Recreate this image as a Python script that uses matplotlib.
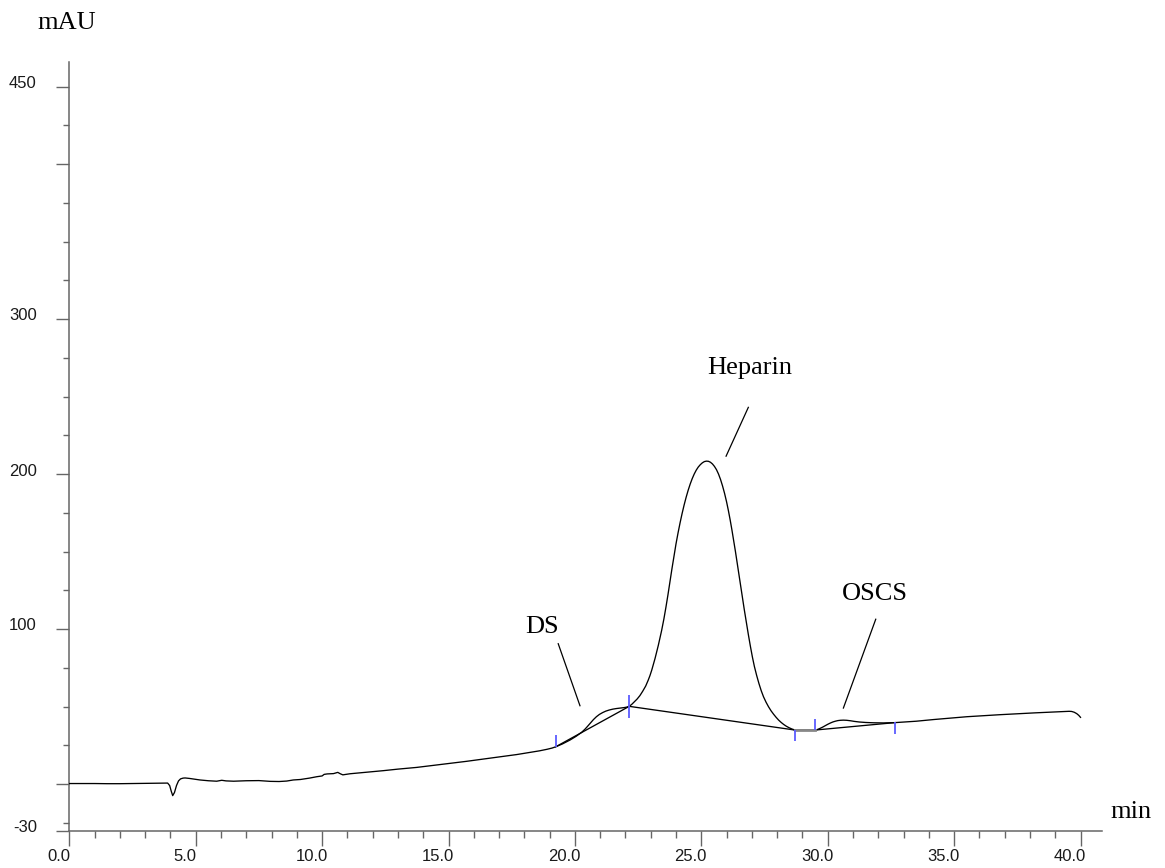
import matplotlib
matplotlib.use("Agg")
import matplotlib.pyplot as plt
from matplotlib.transforms import ScaledTranslation

# ---- data ----
time_min = [0.0, 0.5, 1.0, 1.5, 2.0, 2.5, 3.0, 3.5, 3.89, 3.97, 4.03, 4.09, 4.16, 4.24,
            4.32, 4.40, 4.50, 4.58, 4.75, 5.0, 5.17, 5.5, 5.83, 6.03, 6.2, 6.5, 7.0, 7.5,
            7.95, 8.3, 8.6, 8.86, 9.14, 9.5, 9.79, 10.0, 10.08, 10.2, 10.45, 10.62, 10.72,
            10.82, 11.1, 11.5, 12.0, 12.42, 13.0, 13.74, 14.4, 15.06, 15.7, 16.38, 17.0,
            17.7, 18.2, 18.6, 18.9, 19.1, 19.24, 19.5, 19.81, 20.05, 20.27, 20.4, 20.5, 20.62, 20.73,
            20.85, 20.97, 21.1, 21.22, 21.35, 21.5, 21.65, 21.8, 21.95, 22.05, 22.15,
            22.25, 22.35, 22.46, 22.57, 22.68, 22.8, 22.9, 22.97, 23.04, 23.1, 23.17, 23.24,
            23.3, 23.37, 23.43, 23.52, 23.6, 23.68, 23.76, 23.84, 23.92, 24.0, 24.08, 24.16,
            24.24, 24.32, 24.4, 24.48, 24.56, 24.64, 24.72, 24.8, 24.88, 24.96, 25.04, 25.12,
            25.2, 25.28, 25.36, 25.44, 25.52, 25.6, 25.68, 25.76, 25.84, 25.92, 26.0, 26.07,
            26.14, 26.21, 26.28, 26.35, 26.42, 26.49, 26.56, 26.63, 26.7, 26.78, 26.86, 26.94,
            27.02, 27.1, 27.19, 27.28, 27.37, 27.46, 27.56, 27.66, 27.76, 27.86, 27.96, 28.06,
            28.16, 28.26, 28.36, 28.46, 28.58, 28.71, 29.1, 29.5, 29.6, 29.7, 29.8, 29.9,
            30.0, 30.1, 30.2, 30.3, 30.4, 30.5, 30.62, 30.75, 30.9, 31.05, 31.25, 31.5, 31.8,
            32.2, 32.66, 33.5, 34.2, 34.85, 35.5, 36.2, 36.8, 37.5, 38.2, 38.9, 39.45, 39.55,
            39.65, 39.75, 39.85, 39.93, 40.0]
signal_mau = [0.3, 0.3, 0.3, 0.2, 0.2, 0.3, 0.4, 0.5, 0.6, -1.0, -4.5, -7.5, -5.5, -1.0,
              2.0, 3.3, 3.8, 3.9, 3.6, 3.0, 2.6, 2.1, 1.8, 2.4, 2.0, 1.8, 2.1, 2.2,
              1.7, 1.6, 1.9, 2.6, 2.9, 3.8, 4.7, 5.2, 6.2, 6.5, 6.7, 7.5, 6.6,
              5.9, 6.6, 7.2, 7.9, 8.6, 9.6, 10.7, 12.0, 13.3, 14.6, 16.1, 17.4,
              19.0, 20.3, 21.4, 22.4, 23.2, 24.0, 25.8, 28.4, 30.8, 33.4, 35.4, 37.2, 39.5, 41.5,
              43.4, 44.9, 46.1, 47.0, 47.7, 48.3, 48.7, 49.0, 49.3, 49.6, 50.1,
              51.4, 53.0, 54.8, 57.0, 59.8, 63.2, 67.0, 70.0, 73.5, 77.0, 81.0, 85.5,
              89.5, 94.5, 99.0, 106.5, 114.0, 122.0, 130.5, 139.0, 147.0, 155.0, 162.0, 168.5,
              174.5, 180.0, 185.0, 189.5, 193.5, 197.0, 200.0, 202.5, 204.5, 206.0, 207.2, 208.0,
              208.3, 208.2, 207.6, 206.5, 204.9, 202.8, 200.0, 196.5, 192.3, 187.5, 182.0, 176.5,
              170.5, 164.0, 157.0, 150.0, 142.5, 135.0, 127.5, 120.0, 112.5, 104.5, 96.5, 89.0,
              82.0, 75.8, 70.0, 64.8, 60.2, 56.3, 52.8, 49.8, 47.2, 45.0, 43.0, 41.2,
              39.7, 38.4, 37.3, 36.4, 35.5, 34.8, 34.8, 34.8, 35.2, 35.9, 36.7, 37.6,
              38.5, 39.3, 40.0, 40.5, 40.9, 41.1, 41.2, 41.1, 40.8, 40.4, 40.0, 39.7, 39.5,
              39.4, 39.6, 40.5, 41.6, 42.5, 43.4, 44.1, 44.7, 45.3, 45.9, 46.4, 46.8, 46.9,
              46.8, 46.3, 45.4, 44.3, 43.0]

# integration baselines (start time, start value, end time, end value)
base_t0 = [19.24, 22.15, 29.5]
base_v0 = [24.0, 50.1, 34.8]
base_t1 = [22.15, 28.71, 32.66]
base_v1 = [50.1, 34.8, 39.6]

# peak boundary markers (time, low, high)
mark_t = [19.24, 22.15, 28.71, 29.5, 32.66]
mark_lo = [24.0, 42.3, 27.8, 34.8, 32.0]
mark_hi = [31.5, 57.3, 34.8, 41.9, 39.9]

# peak labels
peak_names = ["DS", "Heparin", "OSCS"]
label_t = [18.69, 26.93, 31.88]
label_v = [97.3, 264.8, 118.7]
lead_t0 = [19.34, 26.86, 31.90]
lead_v0 = [90.5, 243.0, 106.3]
lead_t1 = [20.20, 25.98, 30.62]
lead_v1 = [50.5, 211.5, 49.0]

x_major = [0, 5, 10, 15, 20, 25, 30, 35, 40]
x_major_labels = ["0.0", "5.0", "10.0", "15.0", "20.0", "25.0", "30.0", "35.0", "40.0"]
x_minor = list(range(0, 41))
y_major = [-30, 0, 100, 200, 300, 400, 450]
y_major_labels = ["-30", "", "100", "200", "300", "", "450"]
y_minor = list(range(-25, 451, 25))

W, H = 1165, 868
fig = plt.figure(figsize=(W / 100, H / 100), dpi=100)
ax = fig.add_axes([69.3 / W, (H - 830.5) / H, (1102 - 69.3) / W, (830.5 - 61.7) / H])

ax.plot(time_min, signal_mau, color="black", lw=0.95, zorder=3)
for a, b, c, d in zip(base_t0, base_v0, base_t1, base_v1):
    ax.plot([a, c], [b, d], color="black", lw=0.95, zorder=2)
ax.plot([base_t1[1], base_t0[2]], [base_v1[1], base_v0[2]], color="#888888", lw=2.0, zorder=4)
ax.vlines(mark_t, mark_lo, mark_hi, color="#5c5cff", lw=1.3, zorder=5)

serif = "Liberation Serif"
for name, tx, ty, a, b, c, d in zip(peak_names, label_t, label_v, lead_t0, lead_v0, lead_t1, lead_v1):
    ax.text(tx, ty, name, ha="center", va="baseline", fontsize=19, family=serif)
    ax.plot([a, c], [b, d], color="black", lw=0.9)

ax.set_xlim(0, 40.85)
ax.set_ylim(-30, 466)

for s in ["top", "right"]:
    ax.spines[s].set_visible(False)
for s in ["left", "bottom"]:
    ax.spines[s].set_color("#666666")
    ax.spines[s].set_linewidth(1.1)

ax.set_xticks(x_major)
ax.set_xticklabels(x_major_labels)
ax.set_xticks(x_minor, minor=True)
ax.set_yticks(y_major)
ax.set_yticklabels(y_major_labels)
ax.set_yticks(y_minor, minor=True)

ax.tick_params(axis="x", which="major", length=11, width=1.0, color="#666666",
               labelsize=12, pad=2)
ax.tick_params(axis="x", which="minor", length=5, width=1.0, color="#666666")
ax.tick_params(axis="y", which="major", length=9.4, width=1.0, color="#666666",
               labelsize=12, pad=14)
ax.tick_params(axis="y", which="minor", length=4.3, width=1.0, color="#666666")
for lab in ax.get_xticklabels() + ax.get_yticklabels():
    lab.set_fontfamily("Liberation Sans")
    lab.set_color("#1a1a1a")
off_y = ScaledTranslation(0, 4.5 / 100, fig.dpi_scale_trans)
for lab in ax.get_yticklabels():
    lab.set_transform(lab.get_transform() + off_y)
off_x = ScaledTranslation(-10.5 / 100, 0, fig.dpi_scale_trans)
for lab in ax.get_xticklabels():
    lab.set_transform(lab.get_transform() + off_x)

fig.text(66.5 / W, (H - 29.3) / H, "mAU", ha="center", va="baseline", fontsize=19, family=serif)
fig.text(1110 / W, (H - 818.3) / H, "min", ha="left", va="baseline", fontsize=19, family=serif)

fig.savefig("out.png", dpi=100, facecolor="white")
